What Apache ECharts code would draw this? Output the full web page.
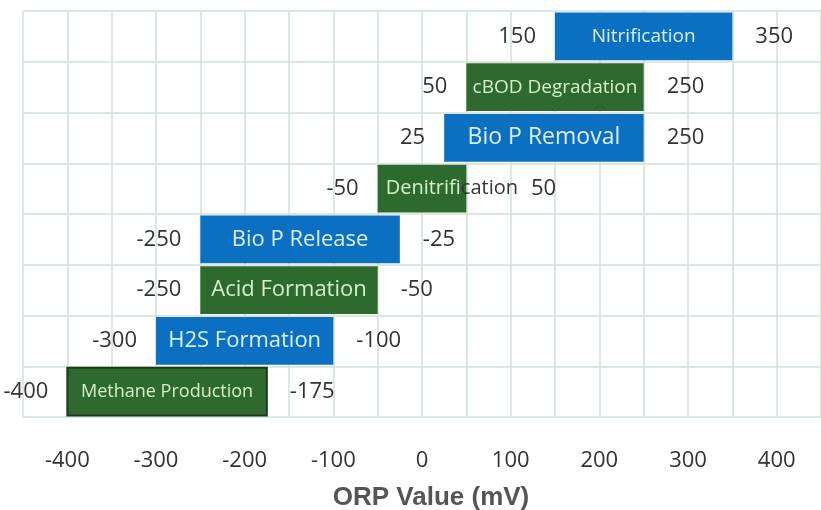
<!DOCTYPE html>
<html>
<head>
<meta charset="utf-8">
<title>ORP ranges</title>
<script src="https://cdn.jsdelivr.net/npm/echarts@6/dist/echarts.min.js"></script>
<style>
html,body{margin:0;padding:0;background:#fff;}
#chart{width:821px;height:510px;}
</style>
</head>
<body>
<div id="chart"></div>
<script>
// processes, top row first
const processes = ['Nitrification','cBOD Degradation','Bio P Removal','Denitrification','Bio P Release','Acid Formation','H2S Formation','Methane Production'];
const orpLow  = [150, 50, 25, -50, -250, -250, -300, -400];
const orpHigh = [350, 250, 250, 50, -25, -50, -100, -175];
const kind    = ['blue','green','blue','green','blue','green','blue','green'];
const xTicks  = [-400, -300, -200, -100, 0, 100, 200, 300, 400];

// styling
const fill = {blue:'#0b70c2', green:'#2e6a2e'};
const ink = {blue:'#dcefff', green:'#d3efcc'};
const nameFont = ['19px "Open Sans"', '19px "Open Sans"', '23px "Open Sans"', '20px "Open Sans"',
                  '22px "Open Sans"', '22px "Open Sans"', '22px "Open Sans"', '18px "Open Sans"'];
const numFont = '22px "Open Sans"';
const insideChars = {'Denitrification': 9}; // label runs past the bar end
const gridColor = '#d3e0da';

const measure = document.createElement('canvas').getContext('2d');
function textWidth(t, font){ measure.font = font; return measure.measureText(t).width; }

const chart = echarts.init(document.getElementById('chart'));

function renderBar(params, api){
    const i = params.dataIndex;
    const cat = api.value(0), lo = api.value(1), hi = api.value(2);
    const a = api.coord([lo, cat]);
    const b = api.coord([hi, cat]);
    const h = api.size([0, 1])[1] * 0.94;
    const name = processes[i];
    const k = kind[i];
    let hiX = b[0] + 23;
    const kids = [{
        type:'rect',
        shape:{x:a[0], y:a[1]-h/2, width:b[0]-a[0], height:h},
        style:{fill:fill[k], stroke: i === 7 ? '#1c3b1c' : null, lineWidth: i === 7 ? 2 : 0}
    }, {
        type:'text',
        style:{text:String(lo), x:a[0]-19, y:a[1], align:'right', verticalAlign:'middle',
               font:numFont, fill:'#333'}
    }];
    if (insideChars[name]) {
        const n = insideChars[name];
        const x0 = a[0] + 8;
        kids.push({
            type:'text',
            style:{text:'{a|' + name.slice(0, n) + '}{b|' + name.slice(n) + '}',
                   x:x0, y:a[1], align:'left', verticalAlign:'middle', font:nameFont[i],
                   rich:{a:{fill:ink[k], font:nameFont[i]}, b:{fill:'#333', font:nameFont[i]}}}
        });
        hiX = x0 + textWidth(name, nameFont[i]) + 13;
    } else {
        kids.push({
            type:'text',
            style:{text:name, x:(a[0]+b[0])/2, y:a[1], align:'center', verticalAlign:'middle',
                   font:nameFont[i], fill:ink[k]}
        });
    }
    kids.push({
        type:'text',
        style:{text:String(hi), x:hiX, y:b[1], align:'left', verticalAlign:'middle',
               font:numFont, fill:'#333'}
    });
    return {type:'group', children:kids};
}

chart.setOption({
    animation:false,
    backgroundColor:'#fff',
    grid:{left:23, right:0, top:11, bottom:93, outerBoundsMode:'none', containLabel:false},
    xAxis:{
        type:'value', min:-450, max:450, interval:50,
        axisLine:{show:false}, axisTick:{show:false},
        splitLine:{show:true, lineStyle:{color:gridColor, width:1.5}},
        axisLabel:{
            margin:33, color:'#333', fontFamily:'Open Sans', fontSize:22,
            formatter: v => xTicks.includes(v) ? String(v) : ''
        },
        name:'ORP Value (mV)', nameLocation:'middle', nameGap:68,
        nameTextStyle:{fontFamily:'Liberation Sans', fontWeight:'bold', fontSize:26, color:'#555', padding:[0,0,0,18]}
    },
    yAxis:{
        type:'category', data:processes, inverse:true,
        axisLine:{show:false}, axisTick:{show:false}, axisLabel:{show:false},
        splitLine:{show:true, lineStyle:{color:gridColor, width:1.5}}
    },
    series:[{
        type:'custom',
        renderItem:renderBar,
        encode:{x:[1,2], y:0},
        data:processes.map((p, i) => [i, orpLow[i], orpHigh[i]])
    }]
});
</script>
</body>
</html>
